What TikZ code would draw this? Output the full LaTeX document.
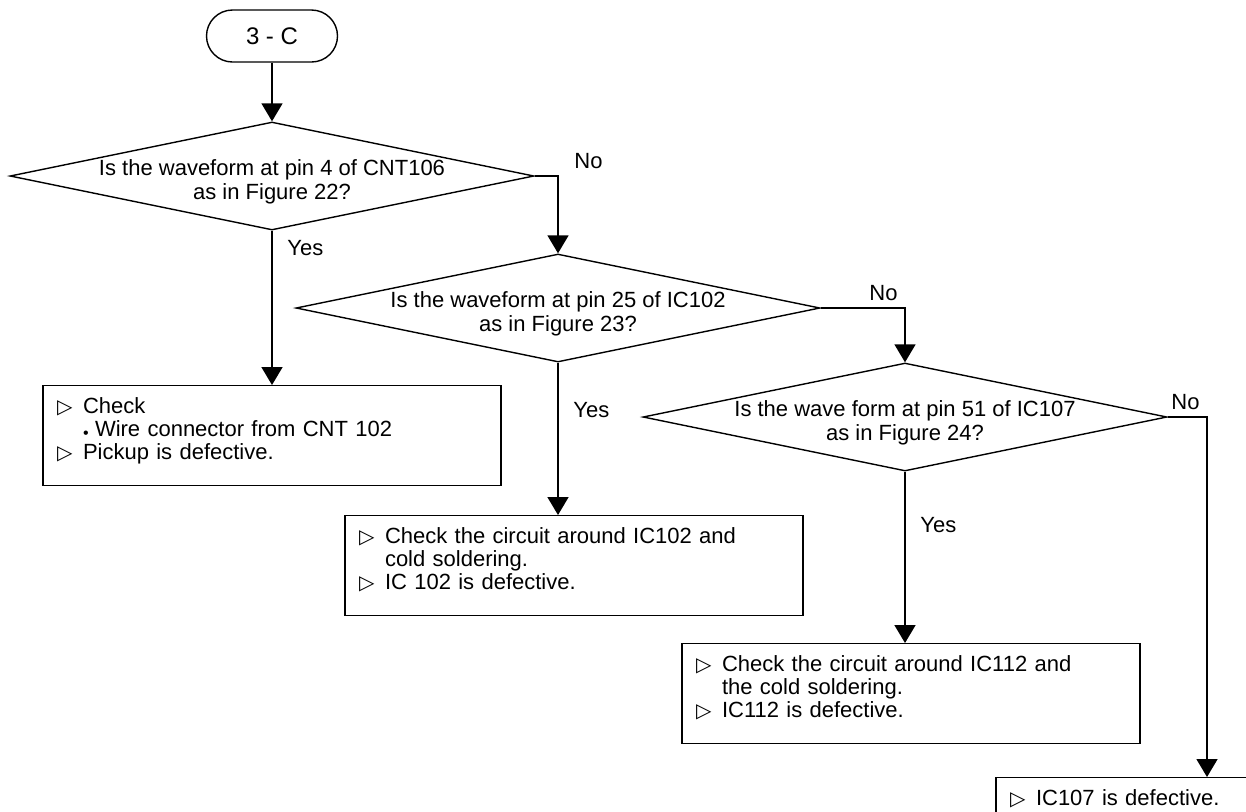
\documentclass[tikz,border=0pt]{standalone}
\usepackage{fontspec}
\setmainfont{Liberation Sans}
\newfontfamily\trifont{DejaVu Sans}
\usetikzlibrary{shapes.geometric,arrows.meta}

\newcommand{\boxfont}{\fontsize{11}{11.5}\selectfont}
\newcommand{\askfont}{\fontsize{11}{12}\selectfont}
\newcommand{\tri}{\makebox[13pt][l]{\trifont\fontsize{10}{12}\selectfont ▷}}
\newcommand{\ind}{\hspace*{13pt}}
\newcommand{\dotmark}{\makebox[6pt][l]{\raisebox{-1pt}{\footnotesize\textbullet}}}

\begin{document}
\begin{tikzpicture}[x=0.5pt,y=-0.5pt]

\tikzstyle{terminal}=[draw,line width=0.7pt,rounded corners=13pt,minimum width=65.5pt,minimum height=26pt,font=\fontsize{12}{14}\selectfont]
\tikzstyle{decision}=[diamond,draw,line width=0.7pt,minimum width=262pt,minimum height=54pt,inner sep=0pt]
\tikzstyle{action}=[draw,line width=0.7pt,anchor=north,align=left,text width=215pt,inner xsep=7pt,inner ysep=0pt,text height=14pt,text depth=36pt,font=\boxfont]
\tikzstyle{flow}=[draw,line width=0.8pt,-{Triangle[width=10.5pt,length=9pt]}]
\tikzstyle{answer}=[font=\askfont]

\useasboundingbox (0,0) rectangle (1246,811);

\node[terminal] (start) at (272,36) {3 - C};

% the three questions
\foreach \name/\x/\y/\ask in {d1/272/176/Is the waveform at pin 4 of CNT106\\as in Figure 22?,
                              d2/558/308/Is the waveform at pin 25 of IC102\\as in Figure 23?,
                              d3/905/417/Is the wave form at pin 51 of IC107\\as in Figure 24?}
{
  \node[decision,label={[align=center,font=\askfont,yshift=-3pt]center:\ask}] (\name) at (\x,\y) {};
}

% what to do
\node[action] (b1) at (272,385) {\tri Check\\ \ind\dotmark Wire connector from CNT 102\\ \tri Pickup is defective.};
\node[action] (b2) at (574,515) {\tri Check the circuit around IC102 and\\ \ind cold soldering.\\ \tri IC 102 is defective.};
\node[action] (b3) at (911,643) {\tri Check the circuit around IC112 and\\ \ind the cold soldering.\\ \tri IC112 is defective.};
\node[action,text width=197pt] (b4) at (1207,777) {\tri IC107 is defective.};

\draw[flow] (start) -- (d1.north);

\foreach \q/\a/\p in {d1/b1/0.11, d2/b2/0.31, d3/b3/0.31}
{
  \draw[flow] (\q.south) -- node[answer,pos=\p,right,xshift=4pt] {Yes} (\q.south |- \a.north);
}

\draw[flow] (d1.east) -| node[answer,pos=0.5,anchor=south west,xshift=4.5pt] {No} (d2.north);
\draw[flow] (d2.east) -| node[answer,pos=0.5,anchor=south east] {No} (d3.north);
\draw[flow] (d3.east) -| node[answer,pos=0.5,anchor=south east] {No} (b4.north);
\end{tikzpicture}
\end{document}
